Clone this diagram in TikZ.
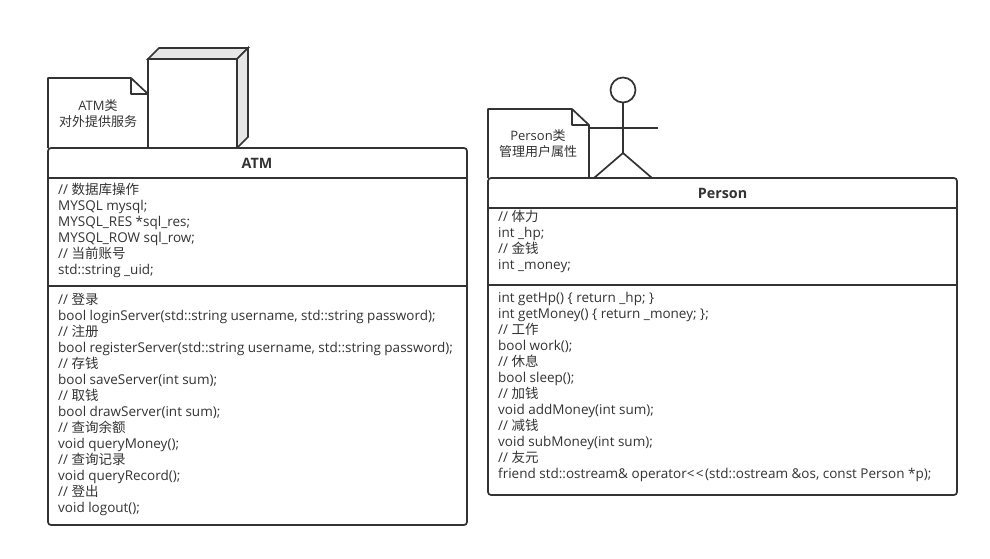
\documentclass[tikz,border=0pt]{standalone}
\usepackage{fontspec}
\setmainfont{Open Sans}
\newfontfamily\cjk{Noto Sans CJK SC}
\newcommand{\zh}[1]{{\cjk #1}}
\usetikzlibrary{positioning}
\definecolor{umlline}{HTML}{333333}
\definecolor{umlside}{HTML}{E6E6E6}
\tikzset{
  classbox/.style={draw=umlline, line width=1.7pt, rounded corners=3pt, fill=white, anchor=north west, inner sep=0pt, outer sep=0pt},
  classline/.style={draw=umlline, line width=1.7pt},
  classname/.style={font=\fontsize{14.3}{16}\selectfont\bfseries, text=umlline},
  members/.style={font=\fontsize{13.5}{16}\selectfont, text=umlline, align=left, anchor=north west, inner sep=0pt},
  notetext/.style={font=\fontsize{13}{16}\selectfont, text=umlline, align=center},
}
\begin{document}
\begin{tikzpicture}[x=1pt, y=-1pt]
  \useasboundingbox (0,0) rectangle (990,558);

  % ATM
  \coordinate (nodeA) at (148,59);
  \coordinate (nodeB) at (237,59);
  \coordinate (nodeC) at (237,148);
  \coordinate (nodeD) at (148,148);
  \coordinate (nodeE) at (159,48);
  \coordinate (nodeF) at (248,48);
  \coordinate (nodeG) at (248,137);
  \filldraw[classline, fill=umlside] (nodeA) -- (nodeE) -- (nodeF) -- (nodeB) -- cycle;
  \filldraw[classline, fill=umlside] (nodeB) -- (nodeF) -- (nodeG) -- (nodeC) -- cycle;
  \draw[classline] (nodeA) -- (nodeB) -- (nodeC) -- (nodeD) -- cycle;

  \coordinate (noteA1) at (48,148);
  \coordinate (noteA2) at (48,78);
  \coordinate (noteA3) at (131,78);
  \coordinate (noteA4) at (148,94);
  \coordinate (noteA5) at (131,94);
  \draw[classline, line join=round] (noteA1) -- (noteA2) -- (noteA3) -- (noteA4) -- (nodeD);
  \draw[classline, line join=round] (noteA3) -- (noteA5) -- (noteA4);
  \node[notetext] (noteAtext) at (98,113.5) {ATM\zh{类}\\\zh{对外提供服务}};

  \node[classbox, minimum width=419pt, minimum height=377pt] (ATM) at (48,148) {};
  \coordinate (ATMl1) at (48,178);
  \coordinate (ATMr1) at (467,178);
  \coordinate (ATMl2) at (48,286);
  \coordinate (ATMr2) at (467,286);
  \draw[classline] (ATMl1) -- (ATMr1);
  \draw[classline] (ATMl2) -- (ATMr2);
  \node[classname] (ATMname) at (257,163.5) {ATM};
  \node[members] (ATMattr) at (58,183) {//~\zh{数据库操作}\\
    MYSQL mysql;\\
    MYSQL\_RES *sql\_res;\\
    MYSQL\_ROW sql\_row;\\
    //~\zh{当前账号}\\
    std::string \_uid;};
  \node[members] (ATMfunc) at (58,292.5) {//~\zh{登录}\\
    bool loginServer(std::string username, std::string password);\\
    //~\zh{注册}\\
    bool registerServer(std::string username, std::string password);\\
    //~\zh{存钱}\\
    bool saveServer(int sum);\\
    //~\zh{取钱}\\
    bool drawServer(int sum);\\
    //~\zh{查询余额}\\
    void queryMoney();\\
    //~\zh{查询记录}\\
    void queryRecord();\\
    //~\zh{登出}\\
    void logout();};

  % Person
  \node[draw=umlline, line width=1.7pt, circle, minimum size=25pt, inner sep=0pt] (head) at (623,90) {};
  \coordinate (hip) at (623,153);
  \coordinate (armL) at (588,128);
  \coordinate (armR) at (658,128);
  \coordinate (legL) at (594,178);
  \coordinate (legR) at (652,178);
  \draw[classline] (head) -- (hip);
  \draw[classline] (armL) -- (armR);
  \draw[classline] (legL) -- (hip) -- (legR);

  \coordinate (noteP1) at (488,178);
  \coordinate (noteP2) at (488,109);
  \coordinate (noteP3) at (572,109);
  \coordinate (noteP4) at (589,125);
  \coordinate (noteP5) at (572,125);
  \coordinate (noteP6) at (589,178);
  \draw[classline, line join=round] (noteP1) -- (noteP2) -- (noteP3) -- (noteP4) -- (noteP6);
  \draw[classline, line join=round] (noteP3) -- (noteP5) -- (noteP4);
  \node[notetext] (notePtext) at (538,143.5) {Person\zh{类}\\\zh{管理用户属性}};

  \node[classbox, minimum width=469pt, minimum height=317pt] (Person) at (488,178) {};
  \coordinate (Pl1) at (488,208);
  \coordinate (Pr1) at (957,208);
  \coordinate (Pl2) at (488,285);
  \coordinate (Pr2) at (957,285);
  \draw[classline] (Pl1) -- (Pr1);
  \draw[classline] (Pl2) -- (Pr2);
  \node[classname] (Personname) at (722.5,193.5) {Person};
  \node[members] (Personattr) at (498,210) {//~\zh{体力}\\
    int \_hp;\\
    //~\zh{金钱}\\
    int \_money;};
  \node[members] (Personfunc) at (498,292) {int getHp() \{ return \_hp; \}\\
    int getMoney() \{ return \_money; \};\\
    //~\zh{工作}\\
    bool work();\\
    //~\zh{休息}\\
    bool sleep();\\
    //~\zh{加钱}\\
    void addMoney(int sum);\\
    //~\zh{减钱}\\
    void subMoney(int sum);\\
    //~\zh{友元}\\
    friend std::ostream\& operator<\kern1.5pt<\kern1.5pt(std::ostream \&os, const Person *p);};
\end{tikzpicture}
\end{document}
